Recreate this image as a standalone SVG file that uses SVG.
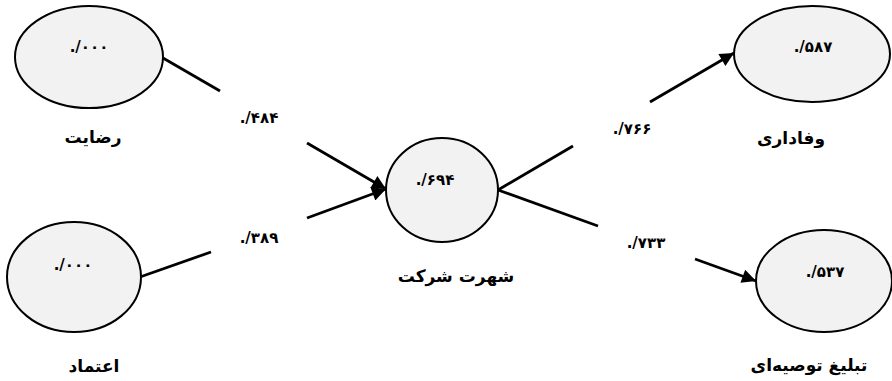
<svg xmlns="http://www.w3.org/2000/svg" width="892" height="381" viewBox="0 0 892 381">
<style>
.node{fill:#f2f2f2;stroke:#000;stroke-width:2}
.edge{stroke:#000;stroke-width:2.8;fill:none}
.num{font-family:"DejaVu Sans",sans-serif;font-size:15px;font-weight:bold;text-anchor:middle;fill:#000}
.lbl{font-family:"DejaVu Sans",sans-serif;font-size:17px;font-weight:bold;text-anchor:middle;fill:#000}
</style>
<defs>
<marker id="ah" viewBox="0 0 10 10" refX="10" refY="5" markerWidth="6" markerHeight="5" orient="auto" markerUnits="strokeWidth">
<path d="M0,0 L10,5 L0,10 z" fill="#000"/>
</marker>
</defs>
<rect width="892" height="381" fill="#fff"/>
<g id="connectors">
<line class="edge" x1="163" y1="58" x2="220" y2="91"/>
<line class="edge" x1="140" y1="277" x2="211" y2="252"/>
<line class="edge" x1="307" y1="143" x2="386" y2="189" marker-end="url(#ah)"/>
<line class="edge" x1="307" y1="218" x2="386" y2="189" marker-end="url(#ah)"/>
<line class="edge" x1="498" y1="190" x2="573" y2="146"/>
<line class="edge" x1="498" y1="190" x2="598" y2="226"/>
<line class="edge" x1="650" y1="102" x2="734" y2="53" marker-end="url(#ah)"/>
<line class="edge" x1="695" y1="259" x2="756" y2="281" marker-end="url(#ah)"/>
<text class="num" x="259" y="123">./۴۸۴</text>
<text class="num" x="259" y="243">./۳۸۹</text>
<text class="num" x="632" y="134">./۷۶۶</text>
<text class="num" x="646" y="248">./۷۳۳</text>
</g>
<g id="n-rezayat">
<ellipse class="node" cx="89" cy="57" rx="74" ry="51"/>
<text class="num" x="89" y="52">./۰۰۰</text>
<text class="lbl" x="93" y="143">رضایت</text>
</g>
<g id="n-etemad">
<ellipse class="node" cx="74" cy="277" rx="67" ry="55"/>
<text class="num" x="73" y="270">./۰۰۰</text>
<text class="lbl" x="94" y="372">اعتماد</text>
</g>
<g id="n-shohrat">
<ellipse class="node" cx="442" cy="190" rx="56" ry="52"/>
<text class="num" x="435" y="185">./۶۹۴</text>
<text class="lbl" x="456" y="282">شهرت شرکت</text>
</g>
<g id="n-vafadari">
<ellipse class="node" cx="812" cy="54" rx="78" ry="48"/>
<text class="num" x="813" y="52">./۵۸۷</text>
<text class="lbl" x="791" y="144">وفاداری</text>
</g>
<g id="n-tablighi">
<ellipse class="node" cx="824" cy="281" rx="68" ry="51"/>
<text class="num" x="825" y="277">./۵۳۷</text>
<text class="lbl" x="809" y="371">تبلیغ توصیه‌ای</text>
</g>
</svg>
